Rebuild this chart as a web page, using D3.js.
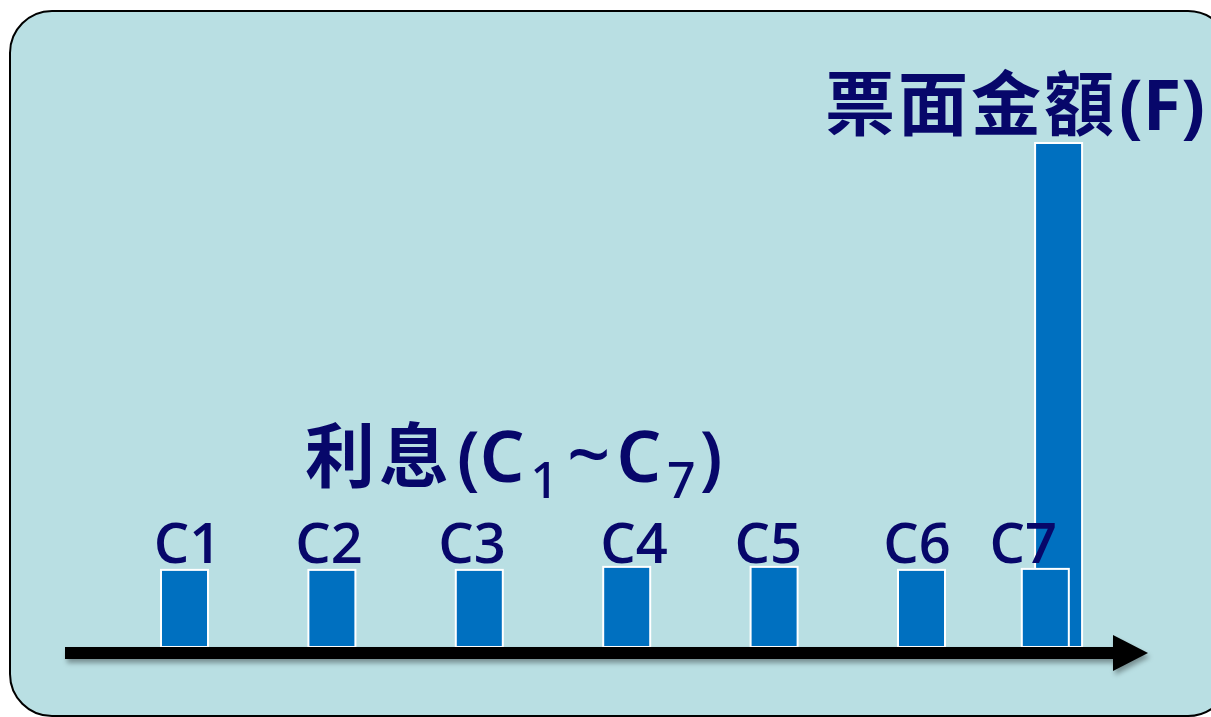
<!DOCTYPE html>
<html>
<head>
<meta charset="utf-8">
<script src="https://cdn.jsdelivr.net/npm/d3@7"></script>
<style>
  html, body { margin: 0; padding: 0; background: #fff; overflow: hidden; }
  svg { display: block; }
</style>
</head>
<body>
<div id="chart"></div>
<script>
// 利息 (coupon) cash flows, time
const couponNames = ["C1", "C2", "C3", "C4", "C5", "C6", "C7"];
const couponTimes = [1, 2, 3, 4, 5, 6, 6.84];
const couponValues = [15.3, 15.3, 15.3, 15.9, 15.9, 15.3, 15.5];
const labelTimes = [1.02, 1.98, 2.95, 4.05, 4.96, 5.97, 6.69];

// 票面金額 (face value)
const faceTime = 6.93;
const faceValue = 100;

const width = 1211, height = 717;
const baseY = 647;
const navy = "#07076a";
const cjk = "'Noto Sans CJK TC', sans-serif";
const latin = "'Noto Sans', 'Open Sans', sans-serif";

const svg = d3.select("#chart").append("svg")
    .attr("width", width)
    .attr("height", height);

const defs = svg.append("defs");
const shadow = defs.append("filter").attr("id", "shadow")
    .attr("x", "-5%").attr("y", "-50%").attr("width", "110%").attr("height", "300%");
shadow.append("feDropShadow")
    .attr("dx", 2).attr("dy", 4).attr("stdDeviation", 2.5)
    .attr("flood-color", "#000").attr("flood-opacity", 0.35);

// panel
svg.append("rect")
    .attr("x", 10).attr("y", 11)
    .attr("width", 1220).attr("height", 705)
    .attr("rx", 42).attr("ry", 42)
    .attr("fill", "#b9dfe3")
    .attr("stroke", "#000")
    .attr("stroke-width", 2);

const x = d3.scaleLinear().domain([1, 6]).range([161, 898]);
const y = d3.scaleLinear().domain([0, 100]).range([baseY, 143]);
const barW = 47;

// face value bar (behind C7)
svg.append("rect")
    .attr("x", x(faceTime))
    .attr("y", y(faceValue))
    .attr("width", barW)
    .attr("height", baseY - y(faceValue))
    .attr("fill", "#0070c0")
    .attr("stroke", "#fff")
    .attr("stroke-width", 2);

// coupon bars
svg.append("g").selectAll("rect")
    .data(couponValues)
    .join("rect")
    .attr("x", (d, i) => x(couponTimes[i]))
    .attr("y", d => y(d))
    .attr("width", barW)
    .attr("height", d => baseY - y(d))
    .attr("fill", "#0070c0")
    .attr("stroke", "#fff")
    .attr("stroke-width", 2);

// coupon labels
svg.append("g").selectAll("text")
    .data(couponNames)
    .join("text")
    .attr("x", (d, i) => x(labelTimes[i]) + barW / 2)
    .attr("y", 563)
    .attr("text-anchor", "middle")
    .attr("fill", navy)
    .style("font-family", "'Open Sans', 'Noto Sans', sans-serif")
    .style("font-size", "56px")
    .style("font-weight", 600)
    .text(d => d);

// time axis arrow
const axis = svg.append("g").attr("filter", "url(#shadow)");
axis.append("rect")
    .attr("x", 65).attr("y", baseY)
    .attr("width", 1115 - 65).attr("height", 12)
    .attr("fill", "#000");
axis.append("path")
    .attr("d", "M1113,635 L1148,653 L1113,671 Z")
    .attr("fill", "#000");

// titles
const t1 = svg.append("text")
    .attr("x", 825).attr("y", 130)
    .attr("fill", navy)
    .style("font-size", "70px")
    .style("font-weight", 700);
t1.append("tspan").style("font-family", cjk).attr("letter-spacing", 3).text("票面金額");
t1.append("tspan").style("font-family", latin).attr("dx", 2).text("(F)");

const t2 = svg.append("text")
    .attr("x", 305).attr("y", 482)
    .attr("fill", navy)
    .style("font-size", "70px");
t2.append("tspan").style("font-family", cjk).style("font-weight", 700)
    .attr("letter-spacing", 4).text("利息");
t2.append("tspan").style("font-family", latin).style("font-weight", 600).attr("dx", 4).text("(C");
t2.append("tspan").style("font-family", latin).style("font-weight", 500)
    .attr("dy", 16).attr("dx", 6).style("font-size", "50px").text("1");
t2.append("tspan").style("font-family", latin).style("font-weight", 500)
    .attr("dy", -16).attr("dx", 8).style("font-size", "76px").text("~");
t2.append("tspan").style("font-family", latin).style("font-weight", 600).attr("dx", 6).text("C");
t2.append("tspan").style("font-family", latin).style("font-weight", 500)
    .attr("dy", 16).attr("dx", 6).style("font-size", "50px").text("7");
t2.append("tspan").style("font-family", latin).style("font-weight", 600)
    .attr("dy", -16).attr("dx", 4).text(")");
</script>
</body>
</html>
